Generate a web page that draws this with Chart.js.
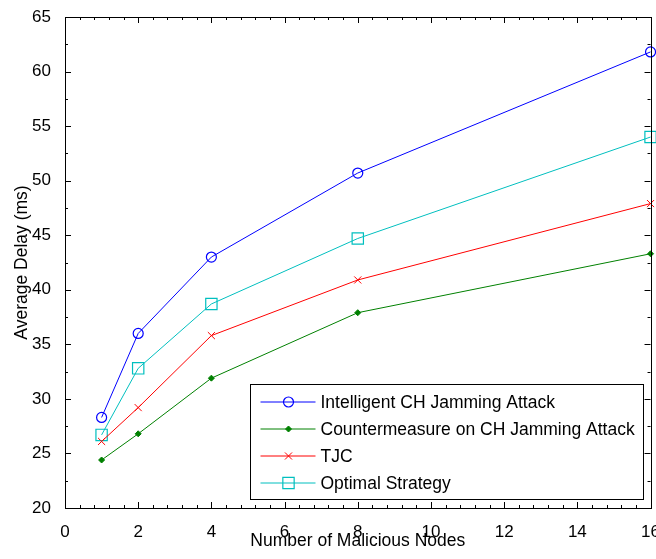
<!DOCTYPE html>
<html>
<head>
<meta charset="utf-8">
<script src="https://cdn.jsdelivr.net/npm/chart.js@4.4.0/dist/chart.umd.min.js"></script>
<style>
  html, body { margin: 0; padding: 0; background: #fff; overflow: hidden; }
  #wrap { width: 656px; height: 559px; overflow: hidden; }
  #chart { display: block; }
</style>
</head>
<body>
<div id="wrap"><canvas id="chart" width="666" height="559"></canvas></div>
<script>
const nodes = [1, 2, 4, 8, 16];
const intelligentJam = [28.3, 36.0, 43.0, 50.7, 61.8];
const countermeasure = [24.4, 26.8, 31.9, 37.9, 43.3];
const tjc = [26.1, 29.2, 35.8, 40.9, 47.9];
const optimal = [26.7, 32.8, 38.7, 44.7, 54.0];

const xMin = 0, xMax = 16, xStep = 2, xMinorStep = 0.4;
const yMin = 20, yMax = 65, yStep = 5, yMinorStep = 2.5;

const FONT = "'Liberation Sans', Arial, sans-serif";

function pts(ys) {
  return nodes.map((x, i) => ({ x: x, y: ys[i] }));
}

// inward tick marks on all four sides + box
const boxTicks = {
  id: 'boxTicks',
  afterDraw(chart) {
    const ctx = chart.ctx;
    const a = chart.chartArea;
    const xs = chart.scales.x, ys = chart.scales.y;
    ctx.save();
    ctx.strokeStyle = '#000';
    ctx.lineWidth = 1;
    ctx.beginPath();
    for (let v = xMin; v <= xMax + 1e-6; v += xMinorStep) {
      const major = Math.abs(v / xStep - Math.round(v / xStep)) < 1e-6;
      const len = major ? 6 : 3;
      const px = Math.round(xs.getPixelForValue(v)) + 0.5;
      ctx.moveTo(px, a.bottom); ctx.lineTo(px, a.bottom - len);
      ctx.moveTo(px, a.top); ctx.lineTo(px, a.top + len);
    }
    for (let v = yMin; v <= yMax + 1e-6; v += yMinorStep) {
      const major = Math.abs(v / yStep - Math.round(v / yStep)) < 1e-6;
      const len = major ? 6 : 3;
      const py = Math.round(ys.getPixelForValue(v)) + 0.5;
      ctx.moveTo(a.left, py); ctx.lineTo(a.left + len, py);
      ctx.moveTo(a.right, py); ctx.lineTo(a.right - len, py);
    }
    ctx.stroke();
    ctx.strokeRect(Math.round(a.left) + 0.5, Math.round(a.top) + 0.5,
      Math.round(a.right - a.left), Math.round(a.bottom - a.top));
    ctx.restore();
  }
};

// boxed legend inside the plot, lower right
const boxLegend = {
  id: 'boxLegend',
  afterDraw(chart) {
    const ctx = chart.ctx;
    const a = chart.chartArea;
    const w = 393, h = 115;
    const x0 = Math.round(a.right - 8 - w) + 0.5;
    const y0 = Math.round(a.bottom - 9 - h) + 0.5;
    ctx.save();
    ctx.fillStyle = '#fff';
    ctx.fillRect(x0, y0, w, h);
    ctx.strokeStyle = '#000';
    ctx.lineWidth = 1;
    ctx.strokeRect(x0, y0, w, h);
    ctx.font = '17.5px ' + FONT;
    ctx.textBaseline = 'middle';
    chart.data.datasets.forEach((ds, i) => {
      const y = y0 + 17.5 + i * 27;
      ctx.strokeStyle = ds.borderColor;
      ctx.lineWidth = 1;
      ctx.beginPath();
      ctx.moveTo(x0 + 10, y); ctx.lineTo(x0 + 65, y);
      ctx.stroke();
      ctx.fillStyle = ds.pointBackgroundColor;
      ctx.strokeStyle = ds.borderColor;
      ctx.lineWidth = ds.pointBorderWidth;
      Chart.helpers.drawPoint(ctx, {
        pointStyle: ds.pointStyle, radius: ds.pointRadius, rotation: 0,
        borderWidth: ds.pointBorderWidth
      }, x0 + 38, y);
      ctx.fillStyle = '#000';
      ctx.fillText(ds.label, x0 + 70, y + 1);
    });
    ctx.restore();
  }
};

const ctx = document.getElementById('chart').getContext('2d');
const myChart = new Chart(ctx, {
  type: 'line',
  data: {
    datasets: [
      {
        label: 'Intelligent CH Jamming Attack',
        data: pts(intelligentJam),
        borderColor: '#0000ff',
        pointBackgroundColor: 'rgba(0,0,0,0)',
        pointStyle: 'circle',
        pointRadius: 5,
        pointBorderWidth: 1.2,
      },
      {
        label: 'Countermeasure on CH Jamming Attack',
        data: pts(countermeasure),
        borderColor: '#008000',
        pointBackgroundColor: '#008000',
        pointStyle: 'rectRot',
        pointRadius: 3,
        pointBorderWidth: 1,
      },
      {
        label: 'TJC',
        data: pts(tjc),
        borderColor: '#ff0000',
        pointBackgroundColor: '#ff0000',
        pointStyle: 'crossRot',
        pointRadius: 5,
        pointBorderWidth: 1,
      },
      {
        label: 'Optimal Strategy',
        data: pts(optimal),
        borderColor: '#00bfbf',
        pointBackgroundColor: 'rgba(0,0,0,0)',
        pointStyle: 'rect',
        pointRadius: 8,
        pointBorderWidth: 1.2,
      },
    ].map(d => Object.assign({
      fill: false,
      borderWidth: 1,
      tension: 0,
      pointBorderColor: d.borderColor,
      pointHoverRadius: d.pointRadius,
      clip: false,
    }, d)),
  },
  options: {
    responsive: false,
    animation: false,
    devicePixelRatio: 1,
    layout: { padding: { top: 17, right: 0, left: 0, bottom: 0 } },
    plugins: { legend: { display: false }, tooltip: { enabled: false } },
    scales: {
      x: {
        type: 'linear',
        min: xMin,
        max: xMax,
        grid: { display: false },
        border: { display: false },
        ticks: { stepSize: xStep, color: '#000', padding: 6, font: { family: FONT, size: 17 } },
        title: {
          display: true, text: 'Number of Malicious Nodes', color: '#000',
          font: { family: FONT, size: 17.5 }, padding: { top: 4, bottom: 7 }
        },
        afterFit(scale) {
          scale.height = 51;
        },
      },
      y: {
        min: yMin,
        max: yMax,
        grid: { display: false },
        border: { display: false },
        ticks: { stepSize: yStep, color: '#000', padding: 6, font: { family: FONT, size: 17 } },
        title: {
          display: true, text: 'Average Delay (ms)', color: '#000',
          font: { family: FONT, size: 17.5 }, padding: { top: 12, bottom: 0 }
        },
        afterFit(scale) {
          scale.width = 65;
        },
      },
    },
  },
  plugins: [boxTicks, boxLegend],
});
</script>
</body>
</html>
